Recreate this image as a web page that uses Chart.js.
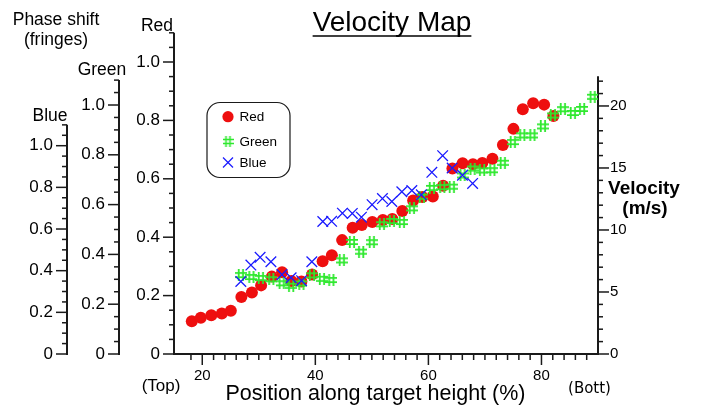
<!DOCTYPE html>
<html><head><meta charset="utf-8">
<script src="https://cdn.jsdelivr.net/npm/chart.js@4.4.1/dist/chart.umd.min.js"></script>
<style>html,body{margin:0;padding:0;background:#fff;}canvas{display:block}</style>
</head><body>
<canvas id="c" width="701" height="409"></canvas>
<script>
// ---- data (position along target height %, phase shift in fringes) ----
const xRed = [18.15,19.74,21.60,23.46,25.05,26.92,28.78,30.41,32.30,34.12,35.75,37.54,39.43,41.29,42.92,44.74,46.60,48.22,50.08,51.94,53.62,55.39,57.30,58.94,60.78,62.60,64.25,66.05,67.88,69.54,71.33,73.18,75.04,76.70,78.53,80.47,82.12];
const phaseRed = [0.112,0.124,0.133,0.139,0.148,0.195,0.211,0.235,0.265,0.280,0.250,0.248,0.272,0.318,0.338,0.390,0.432,0.442,0.452,0.459,0.462,0.490,0.526,0.538,0.539,0.576,0.635,0.653,0.650,0.654,0.669,0.716,0.771,0.838,0.859,0.854,0.815];
const xGreen = [26.82,28.69,30.36,32.21,34.04,35.72,37.54,39.39,41.16,42.83,44.68,46.47,48.10,49.99,51.76,53.53,55.30,57.07,58.84,60.61,62.46,64.14,66.05,67.82,69.50,71.31,73.16,74.93,76.61,78.40,80.26,82.01,83.78,85.55,87.19,89.05];
const phaseGreen = [0.317,0.309,0.305,0.300,0.284,0.274,0.283,0.316,0.302,0.297,0.376,0.450,0.411,0.449,0.521,0.534,0.530,0.585,0.632,0.667,0.670,0.672,0.717,0.745,0.737,0.738,0.768,0.851,0.878,0.878,0.914,0.958,0.983,0.968,0.984,1.033];
const xBlue = [26.82,28.60,30.23,32.14,34.09,35.72,37.56,39.38,41.32,42.88,44.79,46.54,48.15,50.04,51.87,53.53,55.30,57.07,58.75,60.61,62.52,64.20,66.03,67.82];
const phaseBlue = [0.348,0.427,0.464,0.443,0.381,0.366,0.352,0.443,0.636,0.637,0.676,0.675,0.657,0.717,0.746,0.732,0.779,0.785,0.764,0.872,0.952,0.893,0.858,0.819];
const phaseTicks = [0, 0.2, 0.4, 0.6, 0.8, 1.0];
const velocityTicks = [0, 5, 10, 15, 20];
const positionTicks = [20, 40, 60, 80];
const seriesNames = ['Red', 'Green', 'Blue'];

// ---- styling ----
const SANS = "'Liberation Sans', Arial, Helvetica, sans-serif";
const INK = '#1a1a1a';
const RED = '#ee0f0f', GREEN = '#2ee82e', BLUE = '#1a1aff';

function makeHash(size, color, lw) {
  const c = document.createElement('canvas');
  c.width = size; c.height = size;
  const g = c.getContext('2d');
  g.strokeStyle = color; g.lineWidth = lw;
  const a = size * 0.32, b = size * 0.68;
  g.beginPath();
  g.moveTo(a, 0); g.lineTo(a, size);
  g.moveTo(b, 0); g.lineTo(b, size);
  g.moveTo(0, a); g.lineTo(size, a);
  g.moveTo(0, b); g.lineTo(size, b);
  g.stroke();
  return c;
}
const hashImg = makeHash(12, GREEN, 1.8);

const pts = (xs, ys) => xs.map((x, i) => ({x: x, y: ys[i]}));

function line(ctx, x1, y1, x2, y2) { ctx.beginPath(); ctx.moveTo(x1, y1); ctx.lineTo(x2, y2); ctx.stroke(); }

const axisDeco = {
  id: 'axisDeco',
  beforeDatasetsDraw(chart) {
    const ctx = chart.ctx;
    ctx.save();
    ctx.strokeStyle = INK;
    // left phase axes
    ['yBlue', 'yGreen', 'yRed'].forEach(id => {
      const s = chart.scales[id];
      const x = s.right;
      ctx.lineWidth = 2;
      line(ctx, x, s.getPixelForValue(0) + 1, x, s.getPixelForValue(1.1));
      ctx.lineWidth = 1.5;
      for (let i = 0; i <= 22; i++) {
        const y = s.getPixelForValue(i * 0.05);
        const len = (i % 4 === 0) ? 11 : 5;
        line(ctx, x - len, y, x, y);
      }
    });
    // right velocity axis
    const v = chart.scales.yVel;
    ctx.lineWidth = 2;
    line(ctx, v.left, v.getPixelForValue(0) + 1, v.left, v.getPixelForValue(22.4));
    ctx.lineWidth = 1.5;
    for (let i = 0; i <= 22; i++) {
      const y = v.getPixelForValue(i);
      const len = (i % 5 === 0) ? 11 : 5;
      line(ctx, v.left, y, v.left + len, y);
    }
    // bottom axis
    const sx = chart.scales.x;
    const y0 = sx.top;
    ctx.lineWidth = 2;
    line(ctx, chart.chartArea.left - 1, y0, chart.chartArea.right + 1, y0);
    ctx.lineWidth = 1.5;
    for (let t = 18; t <= 88; t += 2) {
      const px = sx.getPixelForValue(t);
      const len = (t % 20 === 0) ? 11 : 6;
      line(ctx, px, y0, px, y0 + len);
    }
    ctx.restore();
  },
  afterDraw(chart) {
    const ctx = chart.ctx;
    ctx.save();
    ctx.fillStyle = '#000';
    ctx.textBaseline = 'alphabetic';
    function t(s, x, y, font, align) { ctx.font = font; ctx.textAlign = align || 'center'; ctx.fillText(s, x, y); }
    // title
    t('Velocity Map', 392, 31, '28px ' + SANS);
    ctx.font = '28px ' + SANS;
    const w = ctx.measureText('Velocity Map').width;
    ctx.strokeStyle = '#000'; ctx.lineWidth = 1.5;
    line(ctx, 392 - w / 2, 36, 392 + w / 2, 36);
    // left axis names
    t('Phase shift', 56, 25, '17.5px ' + SANS);
    t('(fringes)', 56, 45, '17.5px ' + SANS);
    t('Red', chart.scales.yRed.right - 17, 30.5, '17.5px ' + SANS);
    t('Green', chart.scales.yGreen.right - 17, 75, '17.5px ' + SANS);
    t('Blue', chart.scales.yBlue.right - 17, 121, '17.5px ' + SANS);
    // right axis name
    t('Velocity', 644, 193.5, 'bold 19px ' + SANS);
    t('(m/s)', 645, 213.5, 'bold 19px ' + SANS);
    // bottom
    t('Position along target height (%)', 375.5, 400, '21.5px ' + SANS);
    t('(Top)', 161, 391, '17px ' + SANS);
    t('(Bott)', 589.5, 393, "15px 'DejaVu Sans', sans-serif");
    // legend
    ctx.strokeStyle = INK; ctx.lineWidth = 1.2;
    ctx.beginPath(); ctx.roundRect(207, 102.5, 83, 75, 13); ctx.stroke();
    const ly = [116.7, 141.5, 162.5];
    ctx.fillStyle = RED;
    ctx.beginPath(); ctx.arc(228, ly[0], 5.6, 0, Math.PI * 2); ctx.fill();
    ctx.drawImage(makeHash(11, GREEN, 1.6), 228 - 5.5, ly[1] - 5.5);
    ctx.strokeStyle = BLUE; ctx.lineWidth = 1.3;
    line(ctx, 223, ly[2] - 5, 233, ly[2] + 5);
    line(ctx, 223, ly[2] + 5, 233, ly[2] - 5);
    ctx.fillStyle = '#000';
    ctx.textBaseline = 'middle';
    seriesNames.forEach((n, i) => t(n, 239.5, ly[i] + 0.5, '13.5px ' + SANS, 'left'));
    ctx.restore();
  }
};

const phaseTickCb = v => (v === 0 ? '0' : Number(v).toFixed(1));

function phaseAxis(max, weight, width) {
  return {
    type: 'linear', position: 'left', min: 0, max: max, weight: weight,
    grid: {display: false, drawTicks: false}, border: {display: false},
    ticks: {padding: 14, color: '#000', font: {family: SANS, size: 17}, callback: phaseTickCb},
    afterBuildTicks: s => { s.ticks = phaseTicks.map(v => ({value: v})); },
    afterFit: s => { s.width = width; }
  };
}

new Chart(document.getElementById('c'), {
  type: 'scatter',
  data: {
    datasets: [
      {label: seriesNames[0], data: pts(xRed, phaseRed), xAxisID: 'x', yAxisID: 'yRed',
       pointStyle: 'circle', pointRadius: 6, backgroundColor: RED, borderWidth: 0, order: 3},
      {label: seriesNames[1], data: pts(xGreen, phaseGreen), xAxisID: 'x', yAxisID: 'yGreen',
       pointStyle: hashImg, pointRadius: 6, order: 2},
      {label: seriesNames[2], data: pts(xBlue, phaseBlue), xAxisID: 'x', yAxisID: 'yBlue',
       pointStyle: 'crossRot', pointRadius: 7.5, borderColor: BLUE, backgroundColor: BLUE, borderWidth: 1.3, order: 1}
    ]
  },
  options: {
    responsive: false, animation: false, devicePixelRatio: 1,
    layout: {padding: {top: 32.8, left: 0, right: 0, bottom: 0}},
    plugins: {legend: {display: false}, tooltip: {enabled: false}, title: {display: false}},
    scales: {
      x: {
        type: 'linear', position: 'bottom', min: 15, max: 90,
        grid: {display: false, drawTicks: false}, border: {display: false},
        ticks: {padding: 13, color: '#000', font: {family: SANS, size: 15}, maxRotation: 0, autoSkip: false,
                callback: v => String(v)},
        afterBuildTicks: s => { s.ticks = positionTicks.map(v => ({value: v})); },
        afterFit: s => { s.height = 55; }
      },
      yRed: phaseAxis(1.1, 0, 55),
      yGreen: phaseAxis(1.29, 1, 52),
      yBlue: phaseAxis(1.542, 2, 67),
      yVel: {
        type: 'linear', position: 'right', min: 0, max: 25.9,
        grid: {display: false, drawTicks: false}, border: {display: false},
        ticks: {padding: 12, color: '#000', font: {family: SANS, size: 15}, callback: v => String(v)},
        afterBuildTicks: s => { s.ticks = velocityTicks.map(v => ({value: v})); },
        afterFit: s => { s.width = 103; }
      }
    }
  },
  plugins: [axisDeco]
});
</script>
</body></html>
